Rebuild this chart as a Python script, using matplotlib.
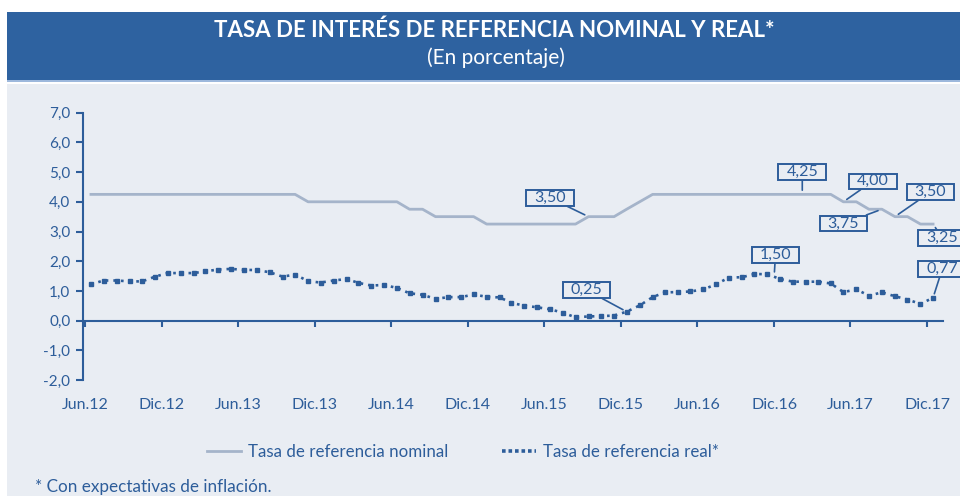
import pandas as pd
import matplotlib
matplotlib.use("Agg")
import matplotlib.pyplot as plt
import matplotlib.dates as mdates
from matplotlib.patches import Rectangle
from matplotlib.lines import Line2D
from matplotlib.path import Path

plt.rcParams['font.family'] = ['Lato', 'DejaVu Sans']

# monthly data, Jun.12 .. Dic.17 (plotted at mid-month)
months = pd.date_range("2012-06-01", "2017-12-01", freq="MS") + pd.Timedelta(days=14)

nominal = [4.25, 4.25, 4.25, 4.25, 4.25, 4.25, 4.25, 4.25, 4.25, 4.25, 4.25, 4.25,
           4.25, 4.25, 4.25, 4.25, 4.25, 4.00, 4.00, 4.00, 4.00, 4.00, 4.00, 4.00,
           4.00, 3.75, 3.75, 3.50, 3.50, 3.50, 3.50, 3.25, 3.25, 3.25, 3.25, 3.25,
           3.25, 3.25, 3.25, 3.50, 3.50, 3.50, 3.75, 4.00, 4.25, 4.25, 4.25, 4.25,
           4.25, 4.25, 4.25, 4.25, 4.25, 4.25, 4.25, 4.25, 4.25, 4.25, 4.25, 4.00,
           4.00, 3.75, 3.75, 3.50, 3.50, 3.25, 3.25]

real = [1.22, 1.35, 1.35, 1.32, 1.32, 1.48, 1.60, 1.60, 1.60, 1.66, 1.72, 1.74,
        1.71, 1.70, 1.63, 1.48, 1.55, 1.33, 1.28, 1.35, 1.40, 1.27, 1.18, 1.20,
        1.10, 0.92, 0.87, 0.73, 0.79, 0.79, 0.88, 0.80, 0.78, 0.60, 0.50, 0.45,
        0.38, 0.27, 0.11, 0.14, 0.15, 0.17, 0.30, 0.51, 0.79, 0.95, 0.96, 0.98,
        1.05, 1.22, 1.45, 1.46, 1.57, 1.56, 1.40, 1.31, 1.31, 1.31, 1.25, 0.96,
        1.05, 0.84, 0.95, 0.82, 0.71, 0.56, 0.77]

tick_dates = pd.date_range("2012-06-01", "2017-12-01", freq="6MS")
tick_labels = ["Jun.12", "Dic.12", "Jun.13", "Dic.13", "Jun.14", "Dic.14",
               "Jun.15", "Dic.15", "Jun.16", "Dic.16", "Jun.17", "Dic.17"]
yticks = [-2, -1, 0, 1, 2, 3, 4, 5, 6, 7]

# label, point (date, value), label position (date, value)
callouts = [
    ("3,50", "2015-09-15", 3.50, "2015-06-15", 4.13),
    ("4,25", "2017-02-06", 4.25, "2017-02-06", 5.01),
    ("4,00", "2017-05-15", 4.00, "2017-07-24", 4.69),
    ("3,75", "2017-08-15", 3.75, "2017-05-15", 3.27),
    ("3,50", "2017-09-15", 3.50, "2017-12-09", 4.33),
    ("3,25", "2017-12-15", 3.25, "2018-01-06", 2.78),
    ("0,25", "2015-12-15", 0.30, "2015-09-10", 1.03),
    ("1,50", "2016-12-01", 1.50, "2016-12-04", 2.21),
    ("0,77", "2017-12-15", 0.77, "2018-01-06", 1.74),
]

blue = '#2d5d9a'
header = '#2e62a0'
bg = '#e9edf3'
nom_color = '#a5b4ca'


def label_box(x0, y0, width, height, mutation_size):
    # wide, flat rectangle round the callout numbers
    px = 0.5 * mutation_size
    py = 0.05 * mutation_size
    x1, y1 = x0 + width + px, y0 + height + py
    x0, y0 = x0 - px, y0 - py
    return Path([(x0, y0), (x1, y0), (x1, y1), (x0, y1), (x0, y0)], closed=True)


W, H = 960, 496
fig = plt.figure(figsize=(9.6, 4.96), dpi=100)
fig.patch.set_facecolor('white')
fig.add_artist(Rectangle((7 / W, 0), 953 / W, (H - 84) / H, transform=fig.transFigure,
                         fc=bg, ec='none', zorder=0))
fig.add_artist(Rectangle((7 / W, 1 - 80 / H), 953 / W, 68 / H, transform=fig.transFigure,
                         fc=header, ec='none', zorder=0))
fig.add_artist(Rectangle((7 / W, 1 - 82 / H), 953 / W, 2 / H, transform=fig.transFigure,
                         fc='#9db8dc', ec='none', zorder=0))

fig.text(494 / W, 1 - 30 / H, "TASA DE INTERÉS DE REFERENCIA NOMINAL Y REAL*",
         ha='center', va='center', color='white', fontsize=16, fontweight='bold')
fig.text(496 / W, 1 - 58 / H, "(En porcentaje)", ha='center', va='center',
         color='white', fontsize=15)

ax = fig.add_axes([83 / W, 1 - 380 / H, (942.7 - 83) / W, (380 - 112.7) / H])
ax.set_facecolor('none')

ax.plot(months, nominal, color=nom_color, lw=2, zorder=3)
ax.plot(months, real, color=blue, lw=1.9, ls=(0, (1, 1.9)), marker='s', ms=3.3,
        zorder=4)

for label, xd, yv, tx, ty in callouts:
    ax.annotate(label,
                xy=(mdates.date2num(pd.Timestamp(xd)), yv),
                xytext=(mdates.date2num(pd.Timestamp(tx)), ty),
                ha='center', va='center', fontsize=11.5, color=blue,
                bbox=dict(boxstyle=label_box, fc=bg, ec=blue, lw=1.4),
                arrowprops=dict(arrowstyle='-', color=blue, lw=1.2,
                                shrinkA=0, shrinkB=3),
                annotation_clip=False, zorder=5)

ax.set_xlim(pd.Timestamp("2012-05-27"), pd.Timestamp("2018-01-07"))
ax.set_ylim(-2, 7)
ax.set_yticks(yticks)
ax.set_yticklabels([f"{v:.1f}".replace('.', ',') for v in yticks])
ax.set_xticks(tick_dates)
ax.set_xticklabels(tick_labels)

for s in ['top', 'right']:
    ax.spines[s].set_visible(False)
ax.spines['bottom'].set_position(('data', 0))
ax.spines['left'].set_color(blue)
ax.spines['bottom'].set_color(blue)
ax.spines['left'].set_linewidth(1.5)
ax.spines['bottom'].set_linewidth(1.5)
ax.tick_params(axis='y', colors=blue, labelsize=11, length=5, width=1.5, pad=4)
ax.tick_params(axis='x', colors=blue, labelsize=11.5, length=4, width=1.5, pad=52)

handles = [Line2D([], [], color=nom_color, lw=2),
           Line2D([], [], color=blue, lw=2.6, ls=(0, (1, 0.8)))]
fig.legend(handles, ["Tasa de referencia nominal", "Tasa de referencia real*"],
           loc='center', bbox_to_anchor=(463 / W, 1 - 452 / H), ncol=2,
           frameon=False, fontsize=12.2, handlelength=2.0, handletextpad=0.4,
           columnspacing=3.2, labelcolor=blue)

fig.text(35 / W, 1 - 487 / H, "* Con expectativas de inflación.", ha='left',
         va='center', color=blue, fontsize=12.3)

fig.savefig("out.png", dpi=100)
